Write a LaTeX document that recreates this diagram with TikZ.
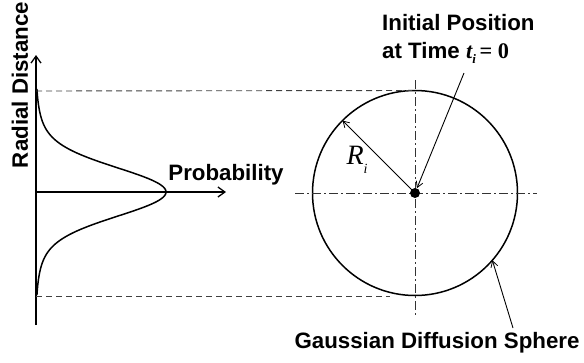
\documentclass[tikz,border=0pt]{standalone}
\usepackage{fontspec}
\setmainfont{Liberation Sans}
\newfontfamily\seriffont{Liberation Serif}
\usetikzlibrary{arrows.meta}
\begin{document}
\begin{tikzpicture}[x=1pt,y=-1pt,
  lbl/.style={font=\fontsize{22.3}{28}\selectfont\bfseries, inner sep=0pt},
  axisline/.style={line width=1.5pt, -{Straight Barb[length=7pt,width=10pt,line width=1.3pt]}},
  guide/.style={line width=0.9pt, dash pattern=on 6pt off 4pt, black!75},
  centerline/.style={line width=0.9pt, dash pattern=on 9pt off 3pt on 2pt off 3pt, black!80},
  pointer/.style={line width=0.9pt, -{Straight Barb[length=6pt,width=7pt,line width=0.8pt]}},
]
\useasboundingbox (0,0) rectangle (584,362);
% axes
\coordinate (o) at (36,192);
\coordinate (ytop) at (36,55);
\coordinate (ybot) at (36,325);
\coordinate (xend) at (226,192);
\draw[axisline] (ybot) -- (ytop);
\draw[axisline] (o) -- (xend);
% distribution curve
\draw[line width=1.5pt, line join=round] plot[domain=-103:103, samples=160, smooth]
  ({36+130*(0.8*exp(-(\x*\x)/1058)+0.2*exp(-(\x*\x)/3200))}, {192+\x});
% sphere
\node (sphere) [circle, draw, line width=1.5pt, minimum size=205pt, inner sep=0pt, outer sep=0pt] at (415,193) {};
% guides
\coordinate (gtop) at (36,91);
\coordinate (gbot) at (36,296);
\coordinate (gbotend) at (390,296);
\draw[guide] (gtop) -- (sphere.north);
\draw[guide] (gbot) -- (gbotend);
% center lines
\coordinate (hl) at (295,193);
\coordinate (hr) at (537,193);
\coordinate (vt) at (415,80);
\coordinate (vb) at (415,315);
\draw[centerline] (hl) -- (hr);
\draw[centerline] (vt) -- (vb);
% dot
\node (dot) [circle, fill, minimum size=10pt, inner sep=0pt] at (415,193) {};
% radius
\draw[pointer] (sphere.center) -- (sphere.135);
\node[font=\seriffont\itshape\fontsize{28}{28}\selectfont, inner sep=0pt] (rlab) at (357,160) {R\raisebox{-0.3em}{\fontsize{14}{14}\selectfont i}};
% pointers
\coordinate (ip) at (464,73);
\draw[pointer] (ip) -- (dot);
\coordinate (gs) at (513,328);
\draw[pointer] (gs) -- (sphere.-41);
% labels
\node[lbl, rotate=90] (ylab) at (20,85) {Radial Distance};
\node[lbl] (xlab) at (226,175) {Probability};
\node[lbl, align=left, anchor=west] (iplab) at (382,39) {Initial Position\\at Time {\seriffont\itshape t\raisebox{-0.25em}{\fontsize{13}{13}\selectfont i}}{\seriffont\bfseries\,= 0}};
\node[lbl] (gslab) at (437,343) {Gaussian Diffusion Sphere};
\end{tikzpicture}
\end{document}
